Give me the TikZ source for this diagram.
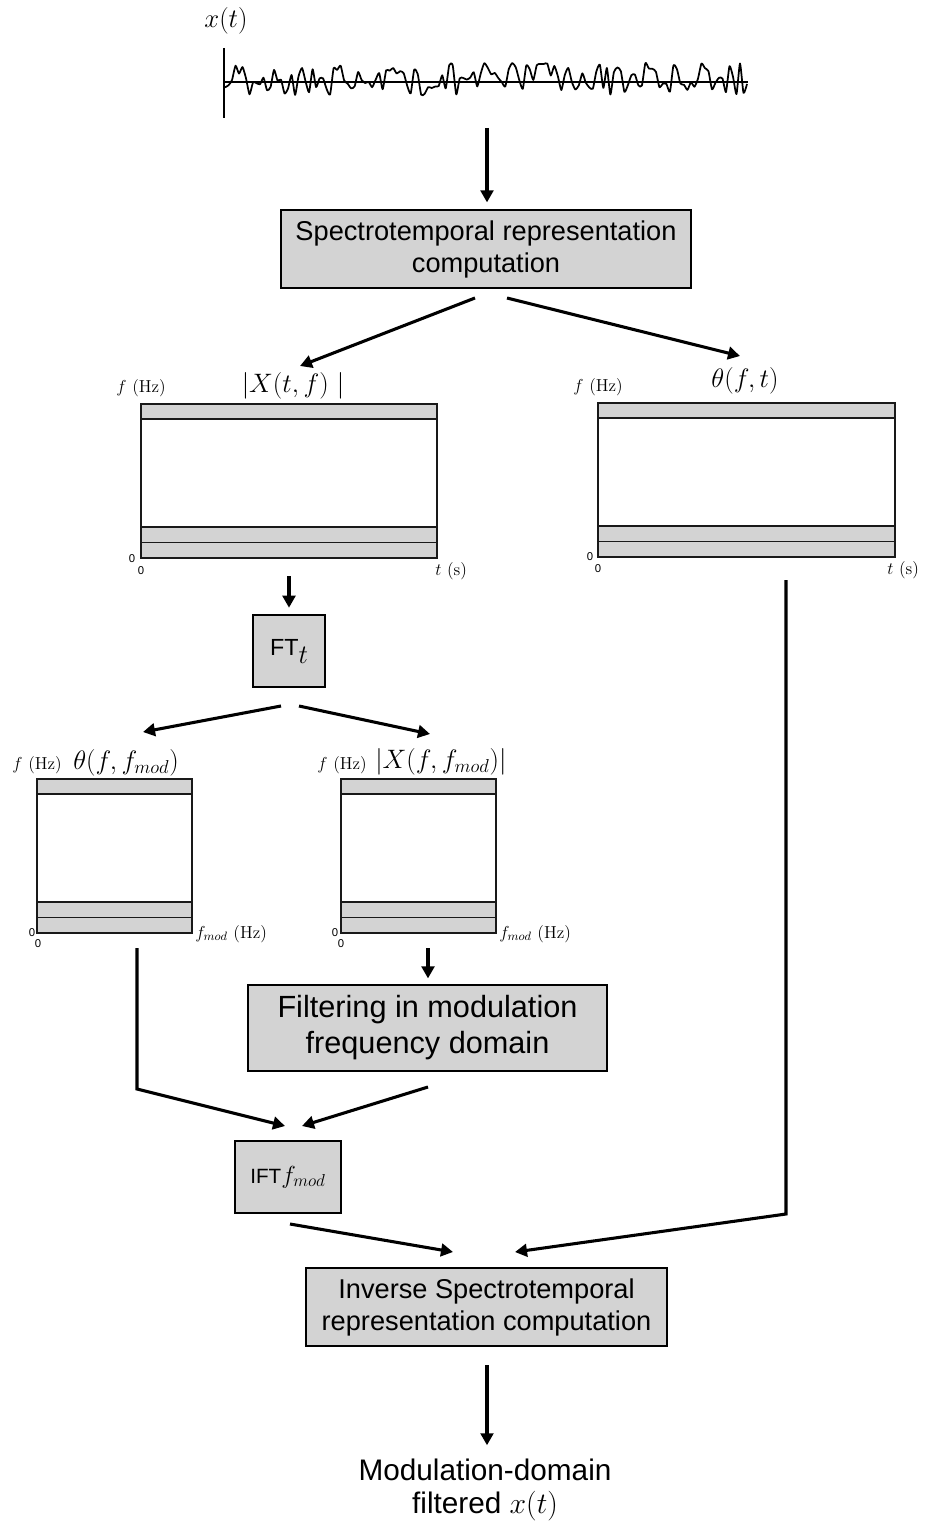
\RequirePackage{fix-cm}
\documentclass[tikz,border=0pt]{standalone}
\usepackage{fontspec}
\newfontfamily\arial{Liberation Sans}
\usetikzlibrary{arrows.meta,calc}
\definecolor{boxgray}{RGB}{211,211,211}
\definecolor{edgegray}{RGB}{25,25,25}
\tikzset{
 proc/.style={draw=black, line width=0.9pt, fill=boxgray, inner sep=0pt, align=center, font=\arial\fontsize{20.4}{24}\selectfont},
 arr/.style={line width=2.3pt, -{Triangle[length=9pt,width=9.5pt]}},
 link/.style={line width=2.3pt},
 mlab/.style={inner sep=0pt, font=\fontsize{20}{24}\selectfont},
 axlab/.style={inner sep=0pt, font=\fontsize{13}{15}\selectfont},
 zlab/.style={inner sep=0pt, font=\arial\fontsize{8.5}{10}\selectfont},
 specline/.style={draw=edgegray, line width=1.3pt},
 sigline/.style={line width=1.3pt, line join=round},
}
\newcommand\drawspecbox[5]{%
 \fill[boxgray] (#2,#3) rectangle (#4,{#3+15});
 \fill[boxgray] (#2,{#5-31}) rectangle (#4,#5);
 \draw[specline] (#2,{#3+15}) -- (#4,{#3+15}) (#2,{#5-31}) -- (#4,{#5-31}) (#2,{#5-15.5}) -- (#4,{#5-15.5});
 \draw[specline] (#2,#3) rectangle (#4,#5);
 \coordinate (#1-nw) at (#2,#3);
 \coordinate (#1-se) at (#4,#5);
}
\begin{document}
\begin{tikzpicture}[x=0.75pt,y=-0.75pt]
\useasboundingbox (0,0) rectangle (927,1523);

% input signal
\node[mlab] (xt) at (226,21) {$x(t)$};
\draw[line width=1.2pt] (224,48) -- (224,118);
\draw[line width=1.2pt] (224,82) -- (748,82);
\pgfmathsetseed{23}
\draw[sigline] plot[domain=225:747, samples=150, smooth, tension=0.35] (\x,{82-16*rand-3});
\coordinate (sigout) at (487,128);

% spectrotemporal box
\node[proc, minimum width=307.5pt, minimum height=58.5pt] (stft) at (486,249) {Spectrotemporal representation\\computation};
\draw[arr, shorten >=5.25pt] (sigout) -- (sigout |- stft.north);

% magnitude spectrogram
\drawspecbox{mag}{141}{404}{437}{558}
\node[mlab] (magl) at (293,386) {$|X(t,f)\ |$};
\node[axlab, anchor=east] (magf) at (166,388) {$f$ (Hz)};
\node[zlab] (magz1) at (132,559) {0};
\node[zlab] (magz2) at (141,571) {0};
\node[axlab, anchor=west] (magt) at (435,571) {$t$ (s)};

% phase spectrogram
\drawspecbox{ph}{598}{403}{895}{557}
\node[mlab] (phl) at (745,381) {$\theta(f,t)$};
\node[axlab, anchor=east] (phf) at (623,387) {$f$ (Hz)};
\node[zlab] (phz1) at (590,557) {0};
\node[zlab] (phz2) at (598,569) {0};
\node[axlab, anchor=west] (pht) at (887,570) {$t$ (s)};

\coordinate (s1a) at (475,298);
\coordinate (s1b) at (507,298);
\coordinate (magin) at (300,366);
\coordinate (phin) at (740,356);
\draw[arr] (s1a) -- (magin);
\draw[arr] (s1b) -- (phin);

% FT box
\node[proc, minimum width=54pt, minimum height=54pt] (ft) at (289,651) {{\fontsize{17.5}{20}\selectfont FT}\raisebox{-6pt}{\fontsize{20}{24}\selectfont$t$}};
\coordinate (magout) at (289,576);
\draw[arr, shorten >=5pt] (magout) -- (magout |- ft.north);

% modulation spectrograms
\drawspecbox{mphi}{37}{779}{192}{933}
\node[axlab, anchor=east] (mphif) at (62,765) {$f$ (Hz)};
\node[mlab, anchor=west] (mphil) at (73,763) {$\theta(f,f_{mod})$};
\node[axlab, anchor=west] (mphim) at (195,934) {$f_{mod}$ (Hz)};
\node[zlab] (mphiz1) at (32,933) {0};
\node[zlab] (mphiz2) at (38,944) {0};

\drawspecbox{mmag}{341}{779}{496}{933}
\node[axlab, anchor=east] (mmagf) at (367,765) {$f$ (Hz)};
\node[mlab, anchor=west] (mmagl) at (375,762) {$|X(f,f_{mod})|$};
\node[axlab, anchor=west] (mmagm) at (499,934) {$f_{mod}$ (Hz)};
\node[zlab] (mmagz1) at (335,933) {0};
\node[zlab] (mmagz2) at (341,944) {0};

\coordinate (fta) at (281,706);
\coordinate (ftb) at (299,706);
\coordinate (mphiin) at (143,732);
\coordinate (mmagin) at (430,734);
\draw[arr] (fta) -- (mphiin);
\draw[arr] (ftb) -- (mmagin);

% filtering
\node[proc, font=\arial\fontsize{23}{27}\selectfont, minimum width=269.25pt, minimum height=64.5pt] (filt) at (427.5,1028) {Filtering in modulation\\frequency domain};
\coordinate (mmagout) at (428,948);
\draw[arr, shorten >=4.5pt] (mmagout) -- (filt.north -| mmagout);

% IFT box
\node[proc, minimum width=79.5pt, minimum height=54pt] (ift) at (288,1177) {{\fontsize{15.5}{19}\selectfont IFT}{\fontsize{18.5}{22}\selectfont$f_{mod}$}};
\coordinate (mphiout) at (137,948);
\coordinate (mphibend) at (137,1089);
\coordinate (iftinl) at (285,1126);
\coordinate (filtout) at (428,1087);
\coordinate (iftinr) at (302,1126);
\draw[arr, line join=miter] (mphiout) -- (mphibend) -- (iftinl);
\draw[arr] (filtout) -- (iftinr);

% inverse box
\node[proc, minimum width=270.75pt, minimum height=58.5pt] (istft) at (486.5,1307) {Inverse Spectrotemporal\\representation computation};
\coordinate (phout) at (786,580);
\coordinate (phbend) at (786,1214);
\coordinate (istinr) at (515,1252);
\coordinate (iftout) at (290,1224);
\coordinate (istinl) at (453,1252);
\draw[arr, line join=miter] (phout) -- (phbend) -- (istinr);
\draw[arr] (iftout) -- (istinl);

% output
\node[font=\arial\fontsize{22.3}{25}\selectfont, align=center, inner sep=0pt] (out) at (485,1490) {Modulation-domain\\filtered $x(t)$};
\coordinate (istout) at (487,1365);
\draw[arr, shorten >=10pt] (istout) -- (istout |- out.north);
\end{tikzpicture}
\end{document}
